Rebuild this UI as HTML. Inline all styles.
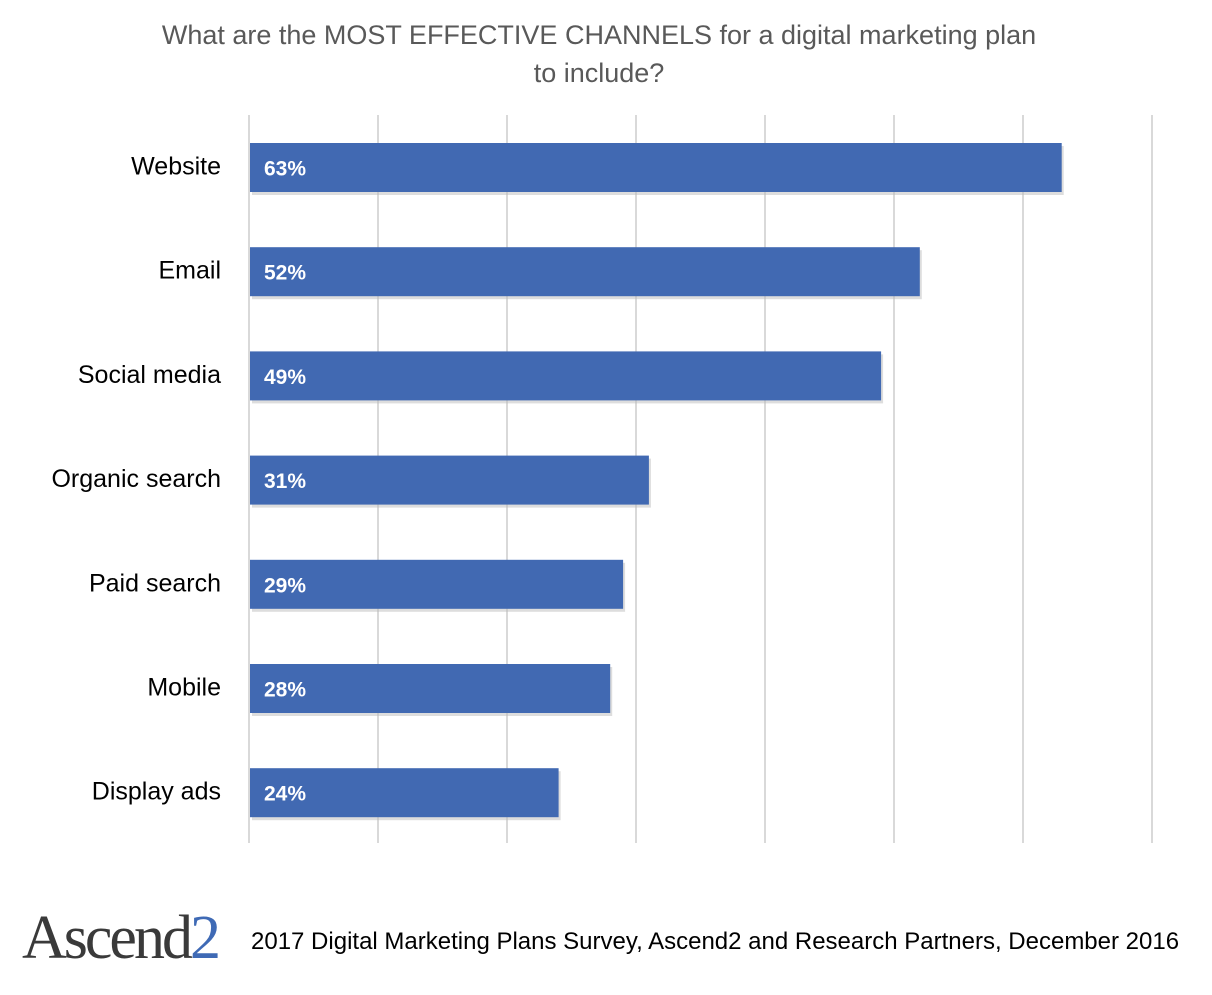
<!DOCTYPE html>
<html><head><meta charset="utf-8"><style>
body{margin:0;background:#fff;width:1212px;height:990px;overflow:hidden;font-family:"Liberation Sans",sans-serif}
</style></head><body>
<svg width="1212" height="990" id="svg">
<text x="599" y="44" text-anchor="middle" font-size="27" fill="#595959">What are the MOST EFFECTIVE CHANNELS for a digital marketing plan</text>
<text x="599" y="82" text-anchor="middle" font-size="27" fill="#595959">to include?</text>
<g id="grid"></g><g id="bars"></g>
<text x="22" y="958" font-family="Liberation Serif,serif" font-size="62" fill="#3a3a3a" letter-spacing="-3">Ascend<tspan fill="#3f6ab5">2</tspan></text>
<text x="251" y="949" font-size="24" fill="#000">2017 Digital Marketing Plans Survey, Ascend2 and Research Partners, December 2016</text>
</svg>
<script>
const categories=["Website","Email","Social media","Organic search","Paid search","Mobile","Display ads"];
const values=[63,52,49,31,29,28,24];
const gridTicks=[0,10,20,30,40,50,60,70];
const NS="http://www.w3.org/2000/svg";
const x0=249,pxPer=12.9,top0=143,step=104.2,bh=49;
const xs=v=>x0+v*pxPer;
const g=document.getElementById('grid'),b=document.getElementById('bars');
function mk(t,a,p){const e=document.createElementNS(NS,t);for(const k in a)e.setAttribute(k,a[k]);p.appendChild(e);return e;}
gridTicks.forEach(t=>{const l=mk('line',{x1:xs(t),x2:xs(t),y1:115,y2:843,stroke:'#d9d9d9','stroke-width':2},g);

});
categories.forEach((c,i)=>{const y=top0+i*step;
const s=mk('rect',{x:x0+3,y:y+3,width:xs(values[i])-x0-1,height:bh,fill:'#bbb',opacity:0.5},b);


const r=mk('rect',{x:x0+1,y:y,width:xs(values[i])-x0-1,height:bh,fill:'#4169b2'},b);


const v=mk('text',{x:264,y:y+bh/2+8,'font-size':21,'font-weight':'bold',fill:'#fff'},b);v.textContent=values[i]+'%';


const l=mk('text',{x:221,y:y+bh/2+7,'text-anchor':'end','font-size':25,fill:'#000'},b);l.textContent=c;

});
</script>
</body></html>
